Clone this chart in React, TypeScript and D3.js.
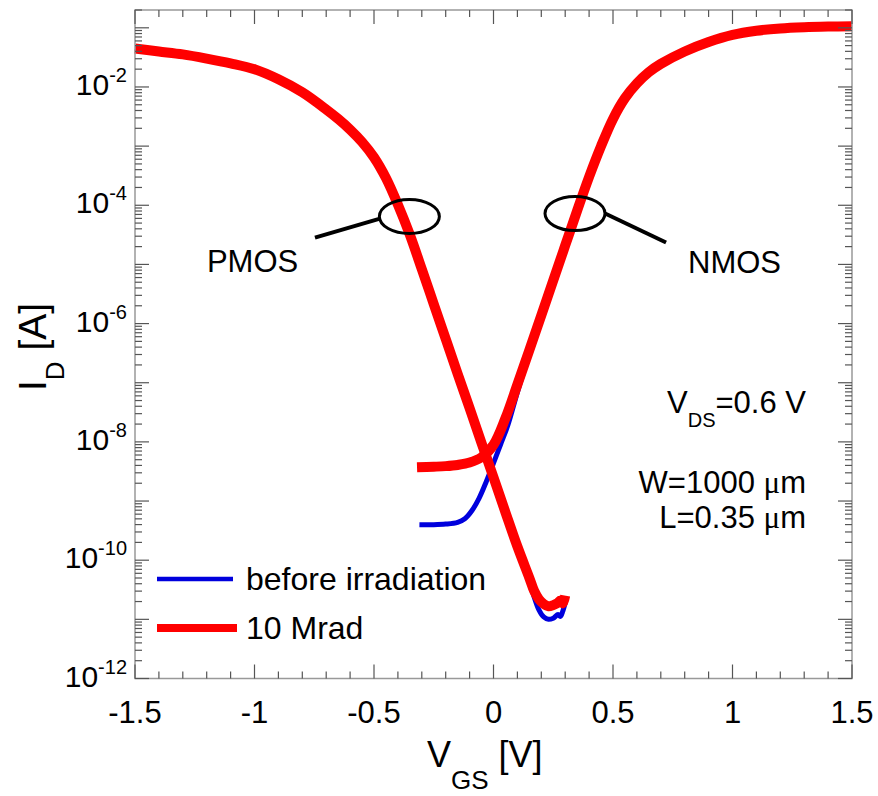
import React from 'react';
import * as d3 from 'd3';

const WIDTH = 878;
const HEIGHT = 796;

// PMOS transfer curves (V_GS in V, log10 of I_D in A)
const VGS_PMOS = [-1.5, -1.4, -1.3, -1.2, -1.1, -1.0, -0.9, -0.8, -0.7, -0.65, -0.6, -0.55, -0.5, -0.45, -0.4, -0.35, -0.3, -0.25, -0.2, -0.15, -0.1, -0.05, 0, 0.05, 0.1, 0.15, 0.17, 0.19, 0.21, 0.23, 0.25, 0.27, 0.28, 0.29, 0.3];
const LOG_ID_PMOS_10MRAD = [-1.35, -1.40, -1.45, -1.52, -1.60, -1.70, -1.87, -2.09, -2.38, -2.54, -2.72, -2.93, -3.19, -3.54, -3.99, -4.50, -5.08, -5.67, -6.26, -6.85, -7.43, -8.02, -8.60, -9.19, -9.77, -10.30, -10.52, -10.66, -10.74, -10.78, -10.76, -10.72, -10.68, -10.73, -10.60];
const LOG_ID_PMOS_BEFORE = [-1.35, -1.40, -1.45, -1.52, -1.60, -1.70, -1.87, -2.09, -2.38, -2.54, -2.72, -2.93, -3.19, -3.54, -3.99, -4.50, -5.08, -5.67, -6.26, -6.85, -7.43, -8.02, -8.60, -9.19, -9.80, -10.36, -10.62, -10.84, -10.96, -11.00, -10.98, -10.92, -10.95, -10.86, -10.72];

// NMOS transfer curves
const VGS_NMOS = [-0.32, -0.25, -0.2, -0.15, -0.1, -0.05, 0, 0.05, 0.1, 0.15, 0.2, 0.25, 0.3, 0.35, 0.4, 0.45, 0.5, 0.55, 0.6, 0.65, 0.7, 0.8, 0.9, 1.0, 1.1, 1.2, 1.3, 1.4, 1.5];
const LOG_ID_NMOS_10MRAD = [-8.43, -8.42, -8.41, -8.39, -8.35, -8.26, -8.05, -7.60, -7.03, -6.45, -5.86, -5.27, -4.68, -4.09, -3.52, -3.00, -2.54, -2.19, -1.94, -1.75, -1.61, -1.40, -1.24, -1.12, -1.05, -1.01, -0.99, -0.98, -0.975];
const VGS_NMOS_BEFORE = [-0.31, -0.25, -0.2, -0.15, -0.12, -0.09, -0.06, -0.03, 0, 0.03, 0.06, 0.1, 0.15, 0.2, 0.25, 0.3, 0.35, 0.4, 0.45, 0.5, 0.55, 0.6, 0.65, 0.7, 0.8, 0.9, 1.0, 1.1, 1.2, 1.3, 1.4, 1.5];
const LOG_ID_NMOS_BEFORE = [-9.40, -9.40, -9.39, -9.36, -9.30, -9.16, -8.95, -8.67, -8.36, -8.04, -7.72, -7.16, -6.50, -5.88, -5.27, -4.68, -4.09, -3.52, -3.00, -2.54, -2.19, -1.94, -1.75, -1.61, -1.40, -1.24, -1.12, -1.05, -1.01, -0.99, -0.98, -0.975];

const X_TICKS = [-1.5, -1, -0.5, 0, 0.5, 1, 1.5];
const X_TICK_LABELS = ['-1.5', '-1', '-0.5', '0', '0.5', '1', '1.5'];
const Y_LABEL_EXPONENTS = [-12, -10, -8, -6, -4, -2];
const LEGEND_LABELS = ['before irradiation', '10 Mrad'];
const SERIES_COLORS = ['#0000dd', '#ff0000'];

// annotation ellipses (data coordinates)
const ANNOT_LABELS = ['PMOS', 'NMOS'];
const ANNOT_CENTER_V = [-0.352, 0.341];
const ANNOT_CENTER_LOGI = [-4.19, -4.14];
const ANNOT_LEADER_FROM_V = [-0.475, 0.467];
const ANNOT_LEADER_FROM_LOGI = [-4.225, -4.14];
const ANNOT_LEADER_TO_V = [-0.747, 0.722];
const ANNOT_LEADER_TO_LOGI = [-4.547, -4.63];
const ANNOT_TEXT_V = [-1.199, 0.814];
const ANNOT_TEXT_LOGI = [-5.12, -5.14];

const FONT = '"Liberation Sans", Arial, Helvetica, sans-serif';
const MU_FONT = '"Liberation Serif", "DejaVu Serif", serif';

export default function App() {
  const left = 135, right = 852, top = 10, bottom = 678.5;
  const x = d3.scaleLinear().domain([-1.5, 1.5]).range([left, right]);
  const y = d3.scaleLog().domain([1e-12, 0.2]).range([bottom, top]);

  const line = d3
    .line<[number, number]>()
    .x((d) => x(d[0]))
    .y((d) => y(Math.pow(10, d[1])))
    .curve(d3.curveCatmullRom.alpha(0.5));

  const zip = (a: number[], b: number[]) => a.map((v, i) => [v, b[i]] as [number, number]);

  const yTicks: { v: number; major: boolean }[] = [];
  for (let e = -12; e <= -1; e++) {
    for (let k = 1; k <= 9; k++) {
      const v = k * Math.pow(10, e);
      if (v > 0.2 + 1e-9) continue;
      yTicks.push({ v, major: k === 1 });
    }
  }
  const xTicks: { v: number; major: boolean }[] = [];
  for (let i = 0; i <= 30; i++) {
    xTicks.push({ v: -1.5 + i * 0.1, major: i % 5 === 0 });
  }
  const tickColor = '#555';
  const frameColor = '#999';

  return (
    <div>
      <style>{`body{margin:0;background:#fff}`}</style>
      <svg width={WIDTH} height={HEIGHT} style={{ display: 'block' }} fontFamily={FONT}>
        <rect x={0} y={0} width={WIDTH} height={HEIGHT} fill="#fff" />

        {/* curves */}
        <path d={line(zip(VGS_PMOS, LOG_ID_PMOS_BEFORE)) || ''} fill="none" stroke={SERIES_COLORS[0]} strokeWidth={5} strokeLinejoin="round" />
        <path d={line(zip(VGS_NMOS_BEFORE, LOG_ID_NMOS_BEFORE)) || ''} fill="none" stroke={SERIES_COLORS[0]} strokeWidth={5} strokeLinejoin="round" />
        <path d={line(zip(VGS_PMOS, LOG_ID_PMOS_10MRAD)) || ''} fill="none" stroke={SERIES_COLORS[1]} strokeWidth={10} strokeLinejoin="round" />
        <path d={line(zip(VGS_NMOS, LOG_ID_NMOS_10MRAD)) || ''} fill="none" stroke={SERIES_COLORS[1]} strokeWidth={10} strokeLinejoin="round" />

        {/* frame */}
        <rect x={left} y={top} width={right - left} height={bottom - top} fill="none" stroke={frameColor} strokeWidth={1.5} />

        {/* y ticks */}
        {yTicks.map((t, i) => {
          const yy = y(t.v);
          const len = t.major ? 14 : 7;
          return (
            <g key={'yt' + i} stroke={tickColor} strokeWidth={1.2}>
              <line x1={left} x2={left + len} y1={yy} y2={yy} />
              <line x1={right} x2={right - len} y1={yy} y2={yy} />
            </g>
          );
        })}
        {/* x ticks */}
        {xTicks.map((t, i) => {
          const xx = x(t.v);
          const len = t.major ? 14 : 7;
          return (
            <g key={'xt' + i} stroke={tickColor} strokeWidth={1.2}>
              <line x1={xx} x2={xx} y1={bottom} y2={bottom - len} />
              <line x1={xx} x2={xx} y1={top} y2={top + len} />
            </g>
          );
        })}

        {/* x tick labels */}
        {X_TICKS.map((v, i) => (
          <text key={'xl' + i} x={x(v)} y={723} textAnchor="middle" fontSize={31} fill="#000">
            {X_TICK_LABELS[i]}
          </text>
        ))}
        {/* y tick labels */}
        {Y_LABEL_EXPONENTS.map((e) => (
          <text key={'yl' + e} x={127} y={y(Math.pow(10, e)) + 8} textAnchor="end" fontSize={30} fill="#000">
            10
            <tspan fontSize={20} dy={-13}>{String(e)}</tspan>
          </text>
        ))}

        {/* axis titles */}
        <text x={427} y={767} fontSize={36} fill="#000">
          V<tspan fontSize={26} dy={22}>GS</tspan>
          <tspan dy={-22}>{' [V]'}</tspan>
        </text>
        <text transform="translate(46,391) rotate(-90)" fontSize={39} fill="#000">
          I<tspan fontSize={26} dy={18}>D</tspan>
          <tspan dy={-18}>{' [A]'}</tspan>
        </text>

        {/* annotations */}
        {ANNOT_LABELS.map((lab, i) => (
          <g key={'an' + i}>
            <ellipse cx={x(ANNOT_CENTER_V[i])} cy={y(Math.pow(10, ANNOT_CENTER_LOGI[i]))} rx={30} ry={17} fill="none" stroke="#000" strokeWidth={3} />
            <line
              x1={x(ANNOT_LEADER_FROM_V[i])}
              y1={y(Math.pow(10, ANNOT_LEADER_FROM_LOGI[i]))}
              x2={x(ANNOT_LEADER_TO_V[i])}
              y2={y(Math.pow(10, ANNOT_LEADER_TO_LOGI[i]))}
              stroke="#000"
              strokeWidth={4}
            />
            <text x={x(ANNOT_TEXT_V[i])} y={y(Math.pow(10, ANNOT_TEXT_LOGI[i]))} fontSize={31} fill="#000">
              {lab}
            </text>
          </g>
        ))}

        {/* bias / geometry info */}
        <text x={806} y={413} textAnchor="end" fontSize={31} fill="#000">
          V<tspan fontSize={20} dy={14}>DS</tspan>
          <tspan dy={-14}>=0.6 V</tspan>
        </text>
        <text x={806} y={493} textAnchor="end" fontSize={31} fill="#000">
          {'W=1000 '}<tspan fontFamily={MU_FONT}>μ</tspan>m
        </text>
        <text x={806} y={528} textAnchor="end" fontSize={31} fill="#000">
          {'L=0.35 '}<tspan fontFamily={MU_FONT}>μ</tspan>m
        </text>

        {/* legend */}
        {LEGEND_LABELS.map((lab, i) => (
          <g key={'lg' + i}>
            <line x1={157} x2={i === 0 ? 233 : 237} y1={579 + i * 49} y2={579 + i * 49} stroke={SERIES_COLORS[i]} strokeWidth={i === 0 ? 4.5 : 8} />
            <text x={246} y={590 + i * 49} fontSize={32} fill="#000">
              {lab}
            </text>
          </g>
        ))}
      </svg>
    </div>
  );
}
